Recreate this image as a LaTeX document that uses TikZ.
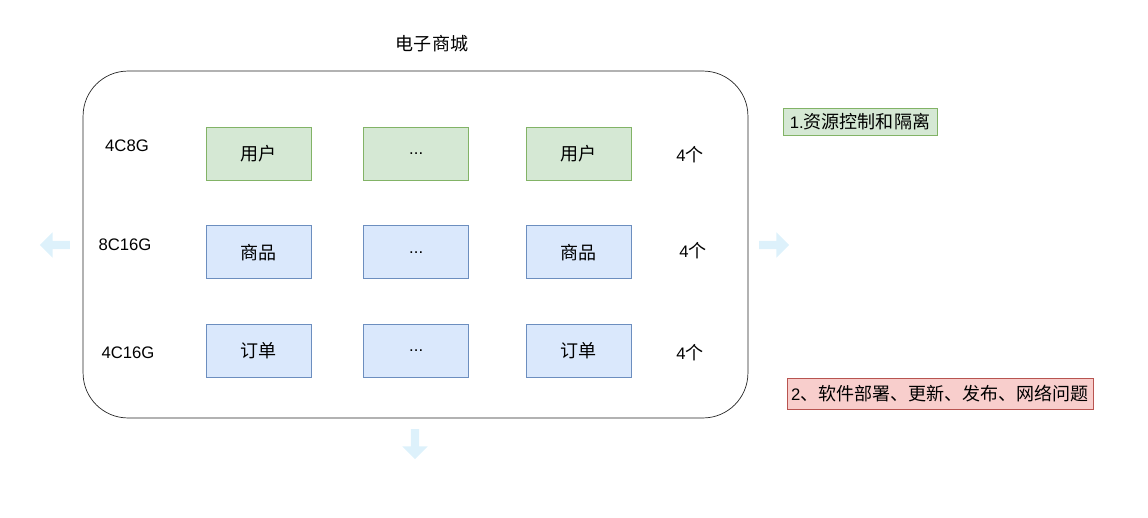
\documentclass[tikz,border=0pt]{standalone}
\usepackage{fontspec}
\setmainfont{Liberation Sans}
\newfontfamily\cjk{Noto Sans CJK SC}[Scale=1.08]
\usepackage{tikz}
\usetikzlibrary{positioning, shapes.arrows}
\definecolor{greenfill}{HTML}{D5E8D4}
\definecolor{greenline}{HTML}{82B366}
\definecolor{bluefill}{HTML}{DAE8FC}
\definecolor{blueline}{HTML}{6C8EBF}
\definecolor{redfill}{HTML}{F8CECC}
\definecolor{redline}{HTML}{B85450}
\definecolor{arrowblue}{HTML}{DDF1FB}
\begin{document}
\begin{tikzpicture}[x=0.02cm, y=-0.02cm,
    font=\fontsize{9.5}{11}\selectfont,
    service/.style={rectangle, draw=#1line, fill=#1fill, inner sep=0pt,
                    minimum width=2.1cm, minimum height=1.06cm},
    container/.style={rectangle, draw=black!85, rounded corners=0.9cm,
                      minimum width=13.3cm, minimum height=6.94cm},
    note/.style={rectangle, draw=#1line, fill=#1fill, inner sep=0pt},
    scale arrow/.style={single arrow, fill=arrowblue, draw=none, inner sep=0.075cm,
                        single arrow head extend=0.17cm, minimum height=0.6cm,
                        shape border rotate=#1},
]
    \useasboundingbox (0,0) rectangle (1148,517);

    % ── Mall container ──
    \node[container] (mall) at (415.5,244.5) {};
    \node (title) at (432,44) {\cjk 电子商城};

    % ── Service instances ──
    \node[service=green] (user1) at (258.5,153.5) {\cjk 用户};
    \node[service=green, right=1.04cm of user1] (user2) {...};
    \node[service=green, right=1.14cm of user2] (user3) {\cjk 用户};

    \node[service=blue, below=0.9cm of user1] (goods1) {\cjk 商品};
    \node[service=blue, right=1.04cm of goods1] (goods2) {...};
    \node[service=blue, right=1.14cm of goods2] (goods3) {\cjk 商品};

    \node[service=blue, below=0.9cm of goods1] (order1) {\cjk 订单};
    \node[service=blue, right=1.04cm of order1] (order2) {...};
    \node[service=blue, right=1.14cm of order2] (order3) {\cjk 订单};

    % ── Specs and counts ──
    \node (spec1) at (127,146) {4C8G};
    \node (spec2) at (125,245) {8C16G};
    \node (spec3) at (128,353) {4C16G};

    \node (count1) at (690,155) {4\cjk 个};
    \node (count2) at (693,251) {4\cjk 个};
    \node (count3) at (690,353) {4\cjk 个};

    % ── Scaling arrows ──
    \node[scale arrow=180] (scaleleft) at (57,245) {};
    \node[scale arrow=0] (scaleright) at (772,245) {};
    \node[scale arrow=270] (scaledown) at (415,442) {};

    % ── Notes ──
    \node[note=green, minimum width=3.08cm, minimum height=0.54cm] (note1)
        at (860,121.5) {1.\cjk 资源控制和隔离};
    \node[note=red, minimum width=6.12cm, minimum height=0.62cm] (note2)
        at (940,393.5) {2\cjk 、软件部署、更新、发布、网络问题};

\end{tikzpicture}
\end{document}
